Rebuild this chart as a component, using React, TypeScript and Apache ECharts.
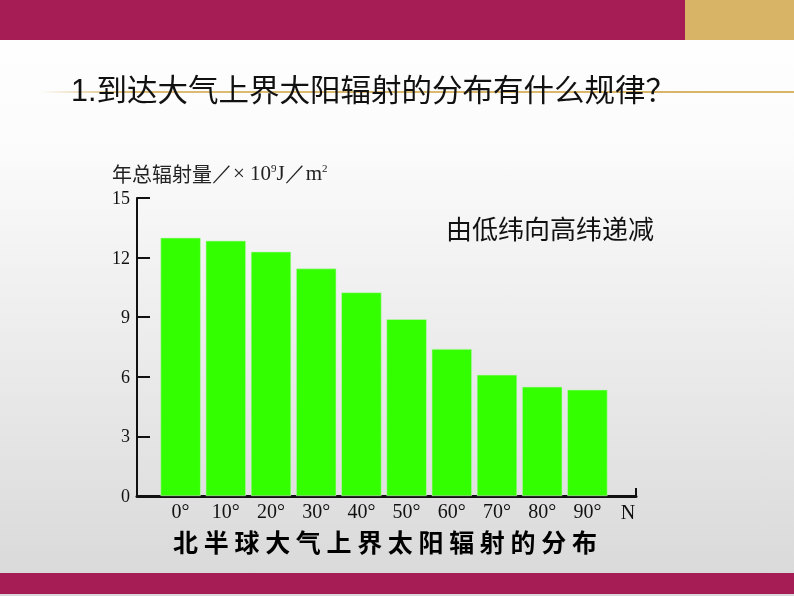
import * as echarts from 'echarts';
import { useEffect, useRef } from 'react';

// chart data
const latitudes = ['0°', '10°', '20°', '30°', '40°', '50°', '60°', '70°', '80°', '90°'];
const radiation = [13.0, 12.85, 12.3, 11.45, 10.25, 8.9, 7.4, 6.1, 5.5, 5.35];
const yMin = 0;
const yMax = 15;
const yStep = 3;

const slideTitle = '1.到达大气上界太阳辐射的分布有什么规律？';
const note = '由低纬向高纬递减';
const caption = '北半球大气上界太阳辐射的分布';
const northLabel = 'N';

const MAGENTA = '#A61C54';
const GOLD = '#D8B466';
const SERIF = '"Liberation Serif", "DejaVu Serif", serif';
const CJK = '"Noto Sans CJK SC", "Noto Sans", sans-serif';

export default function App() {
  const elRef = useRef<HTMLDivElement | null>(null);

  useEffect(() => {
    if (!elRef.current) return;
    const chart = echarts.init(elRef.current, undefined, { renderer: 'svg' });

    const option = {
      animation: false,
      grid: [
        // axis frame (y axis + long x axis running out to "N")
        { left: 137, top: 198, width: 499, height: 298 },
        // bar area
        { left: 158, top: 198, width: 452, height: 298 }
      ],
      xAxis: [
        {
          gridIndex: 0,
          type: 'value',
          min: 0,
          max: 1,
          interval: 1,
          axisLine: { show: true, lineStyle: { color: '#111', width: 3 } },
          axisTick: { show: true, inside: true, length: 8, lineStyle: { color: '#111', width: 2 } },
          axisLabel: { show: false },
          splitLine: { show: false }
        },
        {
          gridIndex: 1,
          type: 'category',
          data: latitudes,
          axisLine: { show: false },
          axisTick: { show: false },
          axisLabel: { color: '#111', fontFamily: SERIF, fontSize: 20, margin: 5 }
        }
      ],
      yAxis: [
        {
          gridIndex: 0,
          type: 'value',
          min: yMin,
          max: yMax,
          interval: yStep,
          axisLine: { show: true, lineStyle: { color: '#111', width: 2 } },
          axisTick: { show: true, inside: true, length: 13, lineStyle: { color: '#111', width: 2 } },
          axisLabel: { color: '#111', fontFamily: SERIF, fontSize: 18, margin: 7 },
          splitLine: { show: false }
        },
        {
          gridIndex: 1,
          type: 'value',
          min: yMin,
          max: yMax,
          show: false
        }
      ],
      series: [
        {
          type: 'bar',
          xAxisIndex: 1,
          yAxisIndex: 1,
          data: radiation,
          barCategoryGap: '11%',
          itemStyle: { color: '#33FF00', borderColor: '#c8f0c0', borderWidth: 0.6 }
        }
      ],
      graphic: [
        {
          type: 'rect',
          z: -100,
          silent: true,
          shape: { x: 0, y: 0, width: 794, height: 596 },
          style: {
            fill: new echarts.graphic.LinearGradient(0, 0, 0, 1, [
              { offset: 0, color: '#ffffff' },
              { offset: 0.25, color: '#fbfbfb' },
              { offset: 1, color: '#d8d8d8' }
            ])
          }
        },
        { type: 'rect', shape: { x: 0, y: 0, width: 685, height: 40 }, style: { fill: MAGENTA } },
        { type: 'rect', shape: { x: 685, y: 0, width: 109, height: 40 }, style: { fill: GOLD } },
        { type: 'rect', shape: { x: 0, y: 573, width: 794, height: 21 }, style: { fill: MAGENTA } },
        {
          type: 'rect',
          shape: { x: 40, y: 91, width: 754, height: 2 },
          style: {
            fill: new echarts.graphic.LinearGradient(0, 0, 1, 0, [
              { offset: 0, color: 'rgba(216,180,102,0)' },
              { offset: 0.12, color: 'rgba(216,180,102,0.9)' },
              { offset: 1, color: GOLD }
            ])
          }
        },
        {
          type: 'text',
          x: 71,
          y: 90,
          style: {
            text: slideTitle,
            fill: '#111',
            fontSize: 30.5,
            fontFamily: '"Liberation Sans", ' + CJK,
            verticalAlign: 'middle'
          }
        },
        {
          type: 'text',
          x: 112,
          y: 173,
          style: {
            text: '{c|年总辐射量}{l|／× 10}{s|9}{l|J／m}{s|2}',
            verticalAlign: 'middle',
            rich: {
              c: { fontFamily: CJK, fontSize: 20, fill: '#222' },
              l: { fontFamily: SERIF, fontSize: 21, fill: '#222' },
              s: { fontFamily: SERIF, fontSize: 11, fill: '#222', verticalAlign: 'top', padding: [0, 0, 9, 0] }
            }
          }
        },
        {
          type: 'text',
          x: 446,
          y: 227,
          style: { text: note, fill: '#111', fontSize: 26, fontFamily: CJK, verticalAlign: 'middle' }
        },
        {
          type: 'text',
          x: 628,
          y: 512,
          style: {
            text: northLabel,
            fill: '#111',
            fontSize: 20,
            fontFamily: SERIF,
            align: 'center',
            verticalAlign: 'middle'
          }
        },
        {
          type: 'text',
          x: 385,
          y: 541,
          style: {
            text: caption.split('').join(' '),
            fill: '#000',
            fontSize: 25,
            fontWeight: 'bold',
            fontFamily: CJK,
            align: 'center',
            verticalAlign: 'middle'
          }
        }
      ]
    };

    chart.setOption(option as any);

    return () => {
      chart.dispose();
    };
  }, []);

  return <div ref={elRef} style={{ position: 'fixed', left: 0, top: 0, width: 794, height: 596 }} />;
}
